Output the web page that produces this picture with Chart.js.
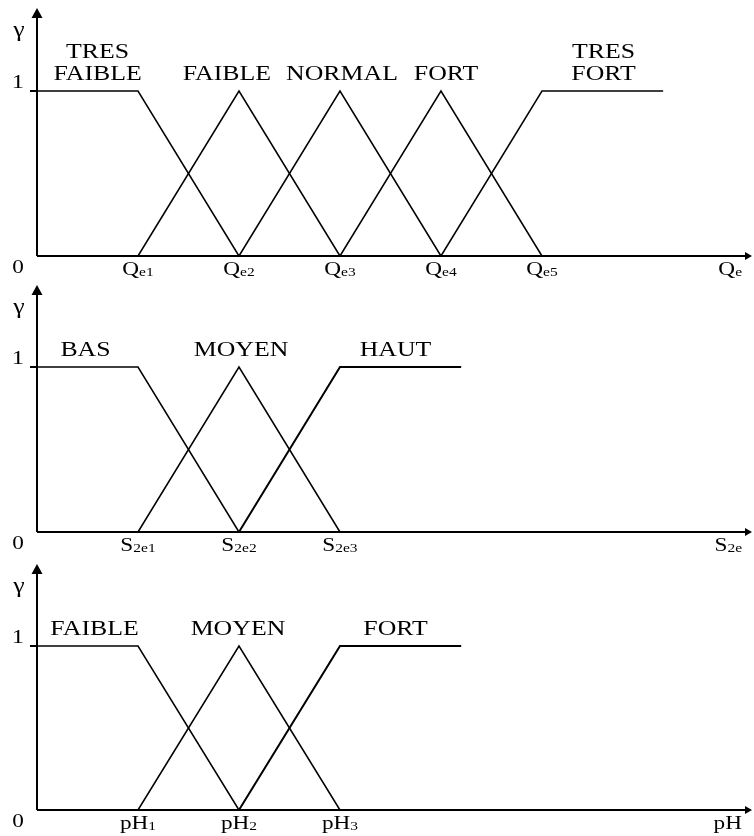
<!DOCTYPE html>
<html>
<head>
<meta charset="utf-8">
<script src="https://cdn.jsdelivr.net/npm/chart.js@4.4.1/dist/chart.umd.min.js"></script>
<style>
  body { margin: 0; background: #fff; }
  .wrap { position: relative; width: 754px; height: 836px; }
  canvas { position: absolute; left: 0; }
</style>
</head>
<body>
<div class="wrap">
  <canvas id="c1" width="754" height="278" style="top:0"></canvas>
  <canvas id="c2" width="754" height="278" style="top:278px"></canvas>
  <canvas id="c3" width="754" height="280" style="top:556px"></canvas>
</div>
<script>
// Data - membership functions (x in units of the first breakpoint, y = degree)
let qeTresFaibleX = [0, 1, 2],   qeTresFaibleY = [1, 1, 0];
let qeFaibleX     = [1, 2, 3],   qeFaibleY     = [0, 1, 0];
let qeNormalX     = [2, 3, 4],   qeNormalY     = [0, 1, 0];
let qeFortX       = [3, 4, 5],   qeFortY       = [0, 1, 0];
let qeTresFortX   = [4, 5, 6.2], qeTresFortY   = [0, 1, 1];
let qeTerms = [['TRES', 'FAIBLE'], ['FAIBLE'], ['NORMAL'], ['FORT'], ['TRES', 'FORT']];
let qeTicks = [1, 2, 3, 4, 5];
let qeTickLabels = [['Q', 'e1'], ['Q', 'e2'], ['Q', 'e3'], ['Q', 'e4'], ['Q', 'e5']];

let sBasX   = [0, 1, 2],   sBasY   = [1, 1, 0];
let sMoyenX = [1, 2, 3],   sMoyenY = [0, 1, 0];
let sHautX  = [2, 3, 4.2], sHautY  = [0, 1, 1];
let sTerms = [['BAS'], ['MOYEN'], ['HAUT']];
let sTicks = [1, 2, 3];
let sTickLabels = [['S', '2e1'], ['S', '2e2'], ['S', '2e3']];

let phFaibleX = [0, 1, 2],   phFaibleY = [1, 1, 0];
let phMoyenX  = [1, 2, 3],   phMoyenY  = [0, 1, 0];
let phFortX   = [2, 3, 4.2], phFortY   = [0, 1, 1];
let phTerms = [['FAIBLE'], ['MOYEN'], ['FORT']];
let phTicks = [1, 2, 3];
let phTickLabels = [['pH', '1'], ['pH', '2'], ['pH', '3']];

const SX = 1.29; // the original text is stretched horizontally
const SERIF = '"Liberation Serif", "Times New Roman", serif';

let pts = (xs, ys) => xs.map((x, i) => ({ x: x, y: ys[i] }));

function txt(ctx, s, x, y, size, align) {
    ctx.save();
    ctx.font = size + 'px ' + SERIF;
    ctx.textAlign = align || 'center';
    ctx.textBaseline = 'alphabetic';
    ctx.translate(x, y);
    ctx.scale(SX, 1);
    ctx.fillText(s, 0, 0);
    ctx.restore();
}

function subLabel(ctx, parts, cx, y, align) {
    ctx.save();
    ctx.font = '18px ' + SERIF;
    let w1 = ctx.measureText(parts[0]).width * SX;
    ctx.font = '12px ' + SERIF;
    let w2 = ctx.measureText(parts[1]).width * SX;
    ctx.restore();
    let x0 = align === 'right' ? cx - w1 - w2 : cx - (w1 + w2) / 2;
    txt(ctx, parts[0], x0, y, 18, 'left');
    txt(ctx, parts[1], x0 + w1, y + 1, 12, 'left');
}

// axes, arrows and text drawn on top of the library's scales
let decor = {
    id: 'decor',
    afterDatasetsDraw(chart, args, o) {
        let ctx = chart.ctx;
        let xs = chart.scales.x, ys = chart.scales.y;
        let x0 = xs.getPixelForValue(0), xEnd = xs.getPixelForValue(xs.max);
        let y0 = ys.getPixelForValue(0), y1 = ys.getPixelForValue(1);
        ctx.save();
        ctx.fillStyle = '#000';
        ctx.strokeStyle = '#000';
        ctx.lineWidth = 2;
        ctx.beginPath();
        ctx.moveTo(x0, y0); ctx.lineTo(x0, o.tip + 6);
        ctx.moveTo(x0, y0); ctx.lineTo(xEnd - 3, y0);
        ctx.moveTo(x0 - 7, y1); ctx.lineTo(x0, y1);
        ctx.stroke();
        ctx.lineWidth = 1;
        // y arrow head
        ctx.beginPath();
        ctx.moveTo(x0, o.tip); ctx.lineTo(x0 - 5.5, o.tip + 10); ctx.lineTo(x0 + 5.5, o.tip + 10);
        ctx.closePath(); ctx.fill();
        // x arrow head
        ctx.beginPath();
        ctx.moveTo(xEnd + 2, y0); ctx.lineTo(xEnd - 5, y0 - 4); ctx.lineTo(xEnd - 5, y0 + 4);
        ctx.closePath(); ctx.fill();

        txt(ctx, '\u03b3', 19, o.tip + 28, 20, 'center');
        txt(ctx, '1', 24, y1 - 3, 19, 'right');
        txt(ctx, '0', 18, y0 + 17, 18, 'center');

        o.ticks.forEach((t, i) => subLabel(ctx, o.tickLabels[i], xs.getPixelForValue(t), y0 + 19));
        subLabel(ctx, o.axisName, 742, y0 + 19, 'right');

        o.terms.forEach((lines, i) => {
            let cx = xs.getPixelForValue(o.termPos[i]);
            let base = y1 - 11 - (lines.length - 1) * 22;
            lines.forEach((s, j) => txt(ctx, s, cx, base + j * 22, 20, 'center'));
        });
        ctx.restore();
    }
};

function makeChart(id, series, pad, deco) {
    return new Chart(document.getElementById(id), {
        type: 'scatter',
        data: {
            datasets: series.map(s => ({
                data: pts(s[0], s[1]),
                showLine: true,
                borderColor: '#000',
                borderWidth: s[2] || 1.5,
                pointRadius: 0,
                clip: false,
                tension: 0
            }))
        },
        options: {
            responsive: false,
            animation: false,
            events: [],
            layout: { padding: pad },
            plugins: { legend: { display: false }, tooltip: { enabled: false }, decor: deco },
            scales: {
                x: { type: 'linear', min: 0, max: 7.06, display: false },
                y: { type: 'linear', min: 0, max: 1, display: false }
            }
        },
        plugins: [decor]
    });
}

makeChart('c1',
    [[qeTresFaibleX, qeTresFaibleY], [qeFaibleX, qeFaibleY], [qeNormalX, qeNormalY],
     [qeFortX, qeFortY], [qeTresFortX, qeTresFortY]],
    { left: 37, right: 4, top: 91, bottom: 278 - 256 },
    { tip: 8, terms: qeTerms, termPos: [0.6, 1.88, 3.02, 4.05, 5.61],
      ticks: qeTicks, tickLabels: qeTickLabels, axisName: ['Q', 'e'] });

makeChart('c2',
    [[sBasX, sBasY], [sMoyenX, sMoyenY], [sHautX, sHautY, 2]],
    { left: 37, right: 4, top: 89, bottom: 278 - 254 },
    { tip: 7, terms: sTerms, termPos: [0.48, 2.02, 3.55],
      ticks: sTicks, tickLabels: sTickLabels, axisName: ['S', '2e'] });

makeChart('c3',
    [[phFaibleX, phFaibleY], [phMoyenX, phMoyenY], [phFortX, phFortY, 2]],
    { left: 37, right: 4, top: 90, bottom: 280 - 254 },
    { tip: 8, terms: phTerms, termPos: [0.57, 1.99, 3.55],
      ticks: phTicks, tickLabels: phTickLabels, axisName: ['pH', ''] });
</script>
</body>
</html>
